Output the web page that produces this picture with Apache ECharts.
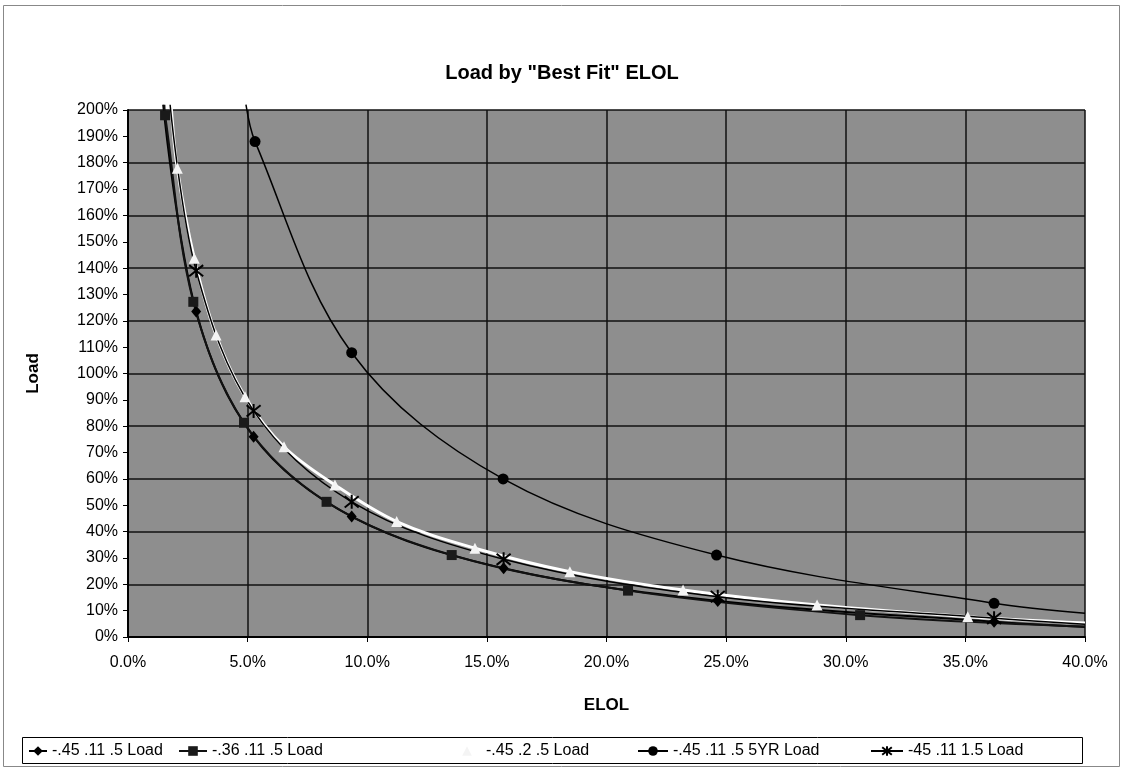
<!DOCTYPE html>
<html>
<head>
<meta charset="utf-8">
<script src="https://cdn.jsdelivr.net/npm/echarts@6/dist/echarts.min.js"></script>
<style>
  html, body { margin: 0; padding: 0; background: #fff; }
  #main { width: 1124px; height: 769px; }
</style>
</head>
<body>
<div id="main"></div>
<script>
const elolA = [2.85, 5.25, 9.35, 15.7, 24.65, 36.2];
const load45 = [123.5, 76.0, 45.7, 26.1, 13.7, 5.8];
const load15 = [139, 85.8, 51.3, 29.5, 15.3, 7.1];

const elolSq = [1.55, 2.73, 4.85, 8.3, 13.53, 20.9, 30.6];
const load36 = [198, 127.2, 81.3, 51.3, 31.1, 17.6, 8.3];

const elolTri = [2.06, 2.77, 3.68, 4.89, 6.52, 8.65, 11.23, 14.5, 18.47, 23.2, 28.8, 35.1];
const load2 = [177.9, 143.7, 114.6, 91.2, 72.2, 57.7, 43.8, 33.7, 24.8, 17.8, 12.1, 7.7];

const elol5yr = [5.31, 9.35, 15.68, 24.6, 36.2];
const load5yr = [188, 107.9, 60.0, 31.1, 12.8];

// where each drawn curve leaves the plot (top end, right end)
const lineStarts = [[1.47, 202], [1.52, 202], [1.8, 202], [4.93, 202], [1.76, 202]];
const lineEnds = [[40, 3.8], [40, 4.0], [40, 5.3], [40, 9.0], [40, 4.8]];

const seriesNames = ['-.45 .11 .5 Load', '-.36 .11 .5 Load', '-.45 .2 .5 Load', '-.45 .11 .5 5YR Load', '-45 .11 1.5 Load'];

const font = 'Liberation Sans, Arial, sans-serif';
const star = 'path://M0,-10L0,10M-8,-8L8,8M-8,8L8,-8';

function build(i, xs, ys) {
    const pts = [{ value: lineStarts[i], symbol: 'none' }];
    for (let k = 0; k < xs.length; k++) pts.push([xs[k], ys[k]]);
    pts.push({ value: lineEnds[i], symbol: 'none' });
    return pts;
}

const chart = echarts.init(document.getElementById('main'));

const option = {
    backgroundColor: '#fff',
    animation: false,
    title: {
        text: 'Load by "Best Fit" ELOL',
        left: 'center',
        top: 58,
        textStyle: { fontFamily: font, fontSize: 20, fontWeight: 'bold', color: '#000' }
    },
    grid: {
        left: 128, right: 39, top: 110, bottom: 132,
        show: true, backgroundColor: '#8e8e8e', borderWidth: 0
    },
    legend: [
        { left: 28, w: 18 }, { left: 178, w: 28 }, { left: 452, w: 28 }, { left: 637, w: 30 }, { left: 870, w: 32 }
    ].map(function (l, i) {
        return {
            data: [seriesNames[i]],
            left: l.left, top: 743, padding: 0,
            itemWidth: l.w, itemHeight: 12,
            selectedMode: false,
            textStyle: { fontFamily: font, fontSize: 16, color: '#000' }
        };
    }),
    xAxis: {
        type: 'value', min: 0, max: 40, interval: 5,
        name: 'ELOL', nameLocation: 'middle', nameGap: 60,
        nameTextStyle: { fontFamily: font, fontSize: 17, fontWeight: 'bold', color: '#000' },
        axisLine: { lineStyle: { color: '#000', width: 2 } },
        axisTick: { show: true, length: 5, lineStyle: { color: '#000' } },
        axisLabel: { fontFamily: font, fontSize: 16, color: '#000', margin: 18,
            formatter: function (v) { return v.toFixed(1) + '%'; } },
        splitLine: { show: true, lineStyle: { color: '#111', width: 1.5 } }
    },
    yAxis: [{
        type: 'value', min: 0, max: 200, interval: 10,
        name: 'Load', nameLocation: 'middle', nameGap: 86,
        nameTextStyle: { fontFamily: font, fontSize: 17, fontWeight: 'bold', color: '#000' },
        axisLine: { show: true, lineStyle: { color: '#000', width: 2 } },
        axisTick: { show: true, length: 5, lineStyle: { color: '#000' } },
        axisLabel: { fontFamily: font, fontSize: 16, color: '#000', margin: 10, formatter: '{value}%' },
        splitLine: { show: false }
    }, {
        // only the 20% gridlines
        type: 'value', min: 0, max: 200, interval: 20, position: 'left',
        axisLine: { show: false }, axisTick: { show: false }, axisLabel: { show: false },
        splitLine: { show: true, lineStyle: { color: '#111', width: 1.5 } }
    }],
    series: [
        {
            name: seriesNames[0], type: 'line', smooth: 0.35, clip: false,
            data: build(0, elolA, load45),
            symbol: 'diamond', symbolSize: [10, 12],
            lineStyle: { color: '#000', width: 2 },
            itemStyle: { color: '#000' }
        },
        {
            name: seriesNames[1], type: 'line', smooth: 0.35, clip: false,
            data: build(1, elolSq, load36),
            symbol: 'rect', symbolSize: 10,
            lineStyle: { color: '#111', width: 2 },
            itemStyle: { color: '#1a1a1a' }
        },
        {
            name: seriesNames[2], type: 'line', smooth: 0.35, clip: false,
            data: build(2, elolTri, load2),
            symbol: 'triangle', symbolSize: 11,
            lineStyle: { color: '#fff', width: 3 },
            itemStyle: { color: '#f4f4f4' }
        },
        {
            name: seriesNames[3], type: 'line', smooth: 0.35, clip: false,
            data: build(3, elol5yr, load5yr),
            symbol: 'circle', symbolSize: 11,
            lineStyle: { color: '#000', width: 1.5 },
            itemStyle: { color: '#000' }
        },
        {
            name: seriesNames[4], type: 'line', smooth: 0.35, clip: false,
            data: build(4, elolA, load15),
            symbol: star, symbolSize: 14,
            lineStyle: { color: '#000', width: 1.5 },
            itemStyle: { color: '#000', borderColor: '#000', borderWidth: 2 }
        }
    ],
    graphic: [
        { type: 'rect', shape: { x: 3.5, y: 5.5, width: 1116, height: 761 },
          style: { fill: 'none', stroke: '#888', lineWidth: 1 }, silent: true },
        { type: 'rect', shape: { x: 22.5, y: 737.5, width: 1060, height: 26 },
          style: { fill: 'none', stroke: '#000', lineWidth: 1 }, silent: true }
    ]
};

chart.setOption(option);
</script>
</body>
</html>
